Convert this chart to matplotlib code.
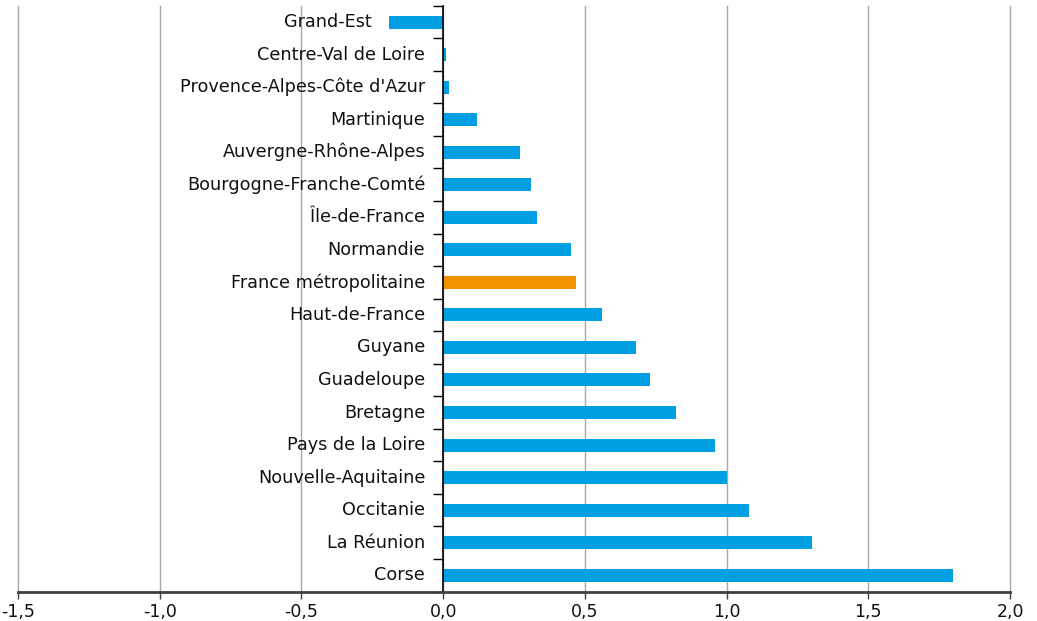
import matplotlib.pyplot as plt
import numpy as np
from matplotlib.transforms import offset_copy

regions = ['Grand-Est', 'Centre-Val de Loire', "Provence-Alpes-Côte d'Azur",
           'Martinique', 'Auvergne-Rhône-Alpes', 'Bourgogne-Franche-Comté',
           'Île-de-France', 'Normandie', 'France métropolitaine',
           'Haut-de-France', 'Guyane', 'Guadeloupe', 'Bretagne',
           'Pays de la Loire', 'Nouvelle-Aquitaine', 'Occitanie',
           'La Réunion', 'Corse']
valeurs = [-0.19, 0.01, 0.02, 0.12, 0.27, 0.31, 0.33, 0.45, 0.47,
           0.56, 0.68, 0.73, 0.82, 0.96, 1.00, 1.08, 1.30, 1.80]
xticks = [-1.5, -1.0, -0.5, 0.0, 0.5, 1.0, 1.5, 2.0]

plt.rcParams['font.family'] = ['DejaVu Sans']

bleu = '#009fe3'
orange = '#f39200'
couleurs = [orange if r == 'France métropolitaine' else bleu for r in regions]

fig = plt.figure(figsize=(10.37, 6.21), dpi=100)
ax = fig.add_axes([0.0174, 0.0475, 0.9566, 0.9432])

y = np.arange(len(regions))
ax.barh(y, valeurs, height=0.4, color=couleurs, zorder=3)

# étiquettes à gauche de la barre (ou de l'axe 0)
trans = offset_copy(ax.transData, fig=fig, x=-18, y=0, units='dots')
for yi, r, v in zip(y, regions, valeurs):
    ax.text(min(v, 0), yi, r, transform=trans, ha='right', va='center',
            fontsize=12.7, color='#111111')

ax.set_xlim(-1.5, 2.0)
ax.set_ylim(len(regions) - 0.5, -0.5)
ax.set_xticks(xticks)
ax.set_xticklabels([('%.1f' % v).replace('.', ',') for v in xticks],
                   fontsize=12.5, color='#111111')
ax.xaxis.grid(True, color='#a6a6a6', linewidth=1, zorder=0)
for gl in ax.get_xgridlines():
    gl.set_clip_on(False)

ax.set_yticks(y)
ax.set_yticklabels([])
ax.set_yticks(np.arange(len(regions) + 1) - 0.5, minor=True)
ax.tick_params(axis='y', which='major', length=0)
ax.tick_params(axis='y', which='minor', length=7, width=1, color='black')
ax.tick_params(axis='x', length=5, width=1, color='#404040', pad=3)

for s in ['top', 'right']:
    ax.spines[s].set_visible(False)
ax.spines['left'].set_position(('data', 0))
ax.spines['left'].set_color('black')
ax.spines['left'].set_linewidth(1.2)
ax.spines['left'].set_zorder(4)
ax.spines['bottom'].set_color('#404040')
ax.spines['bottom'].set_linewidth(2)
ax.spines['bottom'].set_zorder(4)

fig.savefig('out.png')
